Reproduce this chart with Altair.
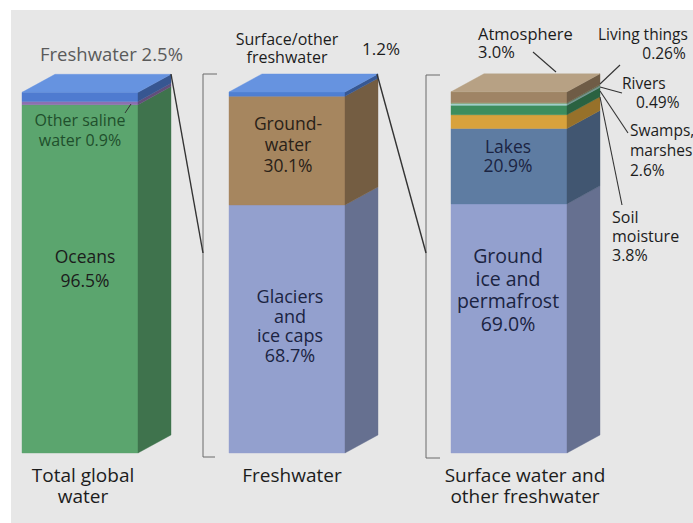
import altair as alt
import pandas as pd

# ---------------------------------------------------------------- data
total_names = ["Oceans", "Other saline water", "Freshwater"]
total_values = [96.5, 0.9, 2.5]

fresh_names = ["Glaciers and ice caps", "Groundwater", "Surface/other freshwater"]
fresh_values = [68.7, 30.1, 1.2]

surface_names = ["Ground ice and permafrost", "Lakes", "Soil moisture",
                 "Swamps, marshes", "Rivers", "Living things", "Atmosphere"]
surface_values = [69.0, 20.9, 3.8, 2.6, 0.49, 0.26, 3.0]

bar_titles = [["Total global", "water"], ["Freshwater"],
              ["Surface water and", "other freshwater"]]

# ---------------------------------------------------------------- style
total_colors = ["#5ba56e", "#8c70b0", "#4f7bd0"]
fresh_colors = ["#93a0ce", "#a6865f", "#4f7fd2"]
surface_colors = ["#93a0ce", "#5e7ca2", "#d8a23c", "#3d8d5d",
                  "#a3d2cf", "#7d9d6a", "#9f8465"]
top_colors = ["#6693e0", "#6693e0", "#b7a184"]
PANEL = "#e7e7e7"
FONT = "Open Sans"

W, H = 693, 523
BAR_LEFT = [22, 229, 451]
BAR_W = 116
DEPTH_X = 33          # depth offset, horizontal (x units)
DEPTH_Y = 5.0         # depth offset, vertical (percent units)
Y0_PX, PX_PER_PCT = 453, 3.61

bars = [
    (total_names, total_values, total_colors),
    (fresh_names, fresh_values, fresh_colors),
    (surface_names, surface_values, surface_colors),
]


def shade(hex_color, f):
    h = hex_color.lstrip("#")
    r, g, b = (int(h[i:i + 2], 16) for i in (0, 2, 4))
    return "#%02x%02x%02x" % (int(r * f), int(g * f), int(b * f))


front_rows, side_rows, top_rows = [], [], []
for b, (names, values, colors) in enumerate(bars):
    xl = BAR_LEFT[b]
    xr = xl + BAR_W
    lo = 0.0
    for name, v, c in zip(names, values, colors):
        hi = lo + v
        key = f"{b}-{name}"
        front_rows.append(dict(key=key, x=xl, x2=xr, lo=lo, hi=hi, color=c))
        side_c = shade(c, 0.70)
        side_rows.append(dict(key=key, x=xr, lo=lo, hi=hi, color=side_c))
        side_rows.append(dict(key=key, x=xr + DEPTH_X, lo=lo + DEPTH_Y,
                              hi=hi + DEPTH_Y, color=side_c))
        lo = hi
    top_rows.append(dict(key=f"top{b}", y=lo, x=xl, x2=xr, color=top_colors[b]))
    top_rows.append(dict(key=f"top{b}", y=lo + DEPTH_Y, x=xl + DEPTH_X,
                         x2=xr + DEPTH_X, color=top_colors[b]))

front = pd.DataFrame(front_rows)
side = pd.DataFrame(side_rows)
top = pd.DataFrame(top_rows)

xs = alt.Scale(domain=[0, W])
ys = alt.Scale(domain=[-(H - Y0_PX) / PX_PER_PCT, Y0_PX / PX_PER_PCT])

panel = alt.Chart(pd.DataFrame({"a": [0]})).mark_rect(color=PANEL).encode(
    x=alt.value(11), x2=alt.value(W), y=alt.value(10), y2=alt.value(H))

front_layer = alt.Chart(front).mark_rect(strokeWidth=0.4).encode(
    x=alt.X("x:Q", scale=xs, axis=None), x2="x2:Q",
    y=alt.Y("lo:Q", scale=ys, axis=None), y2="hi:Q",
    color=alt.Color("color:N", scale=None),
    stroke=alt.Color("color:N", scale=None))

side_layer = alt.Chart(side).mark_area(orient="vertical", strokeWidth=0.4).encode(
    x=alt.X("x:Q", scale=xs, axis=None),
    y=alt.Y("lo:Q", scale=ys, axis=None), y2="hi:Q",
    color=alt.Color("color:N", scale=None),
    stroke=alt.Color("color:N", scale=None),
    detail="key:N")

top_layer = alt.Chart(top).mark_area(orient="horizontal", strokeWidth=0.4).encode(
    y=alt.Y("y:Q", scale=ys, axis=None),
    x=alt.X("x:Q", scale=xs, axis=None), x2="x2:Q",
    color=alt.Color("color:N", scale=None),
    stroke=alt.Color("color:N", scale=None),
    detail="key:N")

# ---------------------------------------------------------------- lines
lines = pd.DataFrame([
    # brackets
    dict(x=203, y=74, x2=203, y2=457, c="#6b6b6b", w=1.0),
    dict(x=203, y=74, x2=217, y2=74, c="#6b6b6b", w=1.0),
    dict(x=203, y=457, x2=215, y2=457, c="#6b6b6b", w=1.0),
    dict(x=426, y=75, x2=426, y2=458, c="#6b6b6b", w=1.0),
    dict(x=426, y=75, x2=440, y2=75, c="#6b6b6b", w=1.0),
    dict(x=426, y=458, x2=440, y2=458, c="#6b6b6b", w=1.0),
    # connectors
    dict(x=171, y=74, x2=203, y2=253, c="#333333", w=1.4),
    dict(x=377, y=74, x2=426, y2=253, c="#333333", w=1.4),
    # leaders
    dict(x=131, y=104, x2=125, y2=113, c="#333333", w=1.0),
    dict(x=533, y=52, x2=556, y2=72, c="#333333", w=1.1),
    dict(x=620, y=65, x2=600, y2=84, c="#333333", w=1.1),
    dict(x=622, y=93, x2=600, y2=87, c="#333333", w=1.1),
    dict(x=600, y=91, x2=628, y2=133, c="#333333", w=1.1),
    dict(x=600, y=97, x2=622, y2=205, c="#333333", w=1.1),
])

line_layer = alt.Chart(lines).mark_rule().encode(
    x=alt.X("x:Q", scale=None), x2="x2:Q",
    y=alt.Y("y:Q", scale=None), y2="y2:Q",
    color=alt.Color("c:N", scale=None),
    strokeWidth=alt.StrokeWidth("w:Q", scale=None))

# ---------------------------------------------------------------- labels
DARK = "#1c1c1c"
NAVY = "#1b2442"
# name -> (line templates, x, first-line y, line gap, align, size, colour)
label_layout = {
    "Freshwater": (["Freshwater {v}"], 40, 55, 0, "left", 18.5, "#5a5a5a"),
    "Other saline water": (["Other saline", "water {v}"], 80, 121, 20, "center", 16, "#1f4f2c"),
    "Oceans": (["Oceans", "{v}"], 85, 258, 24, "center", 17.5, DARK),
    "Surface/other freshwater": (["Surface/other", "freshwater"], 287, 40, 18, "center", 16, DARK),
    "Groundwater": (["Ground-", "water", "{v}"], 288, 125, 21, "center", 17.5, "#2a2118"),
    "Glaciers and ice caps": (["Glaciers", "and", "ice caps", "{v}"], 290, 298, 19.5, "center", 18, NAVY),
    "Atmosphere": (["Atmosphere", "{v}"], 478, 35, 18, "left", 16.5, DARK),
    "Living things": (["Living things"], 598, 35, 0, "left", 15.5, DARK),
    "Rivers": (["Rivers"], 622, 84, 0, "left", 15.5, DARK),
    "Swamps, marshes": (["Swamps,", "marshes", "{v}"], 630, 131, 20, "left", 15.5, DARK),
    "Soil moisture": (["Soil", "moisture", "{v}"], 612, 218, 19, "left", 16, DARK),
    "Lakes": (["Lakes", "{v}"], 508, 148, 19, "center", 17.5, NAVY),
    "Ground ice and permafrost": (["Ground", "ice and", "permafrost", "{v}"], 508, 257, 22.5, "center", 19.5, NAVY),
}
# value lines placed apart from their names
value_layout = {
    "Surface/other freshwater": (362, 50, "left", 17, DARK),
    "Living things": (664, 54, "center", 15.5, DARK),
    "Rivers": (636, 103, "left", 15.5, DARK),
}

blocks = []


def add_block(text_lines, x, y0, gap, align, size, col):
    # y0 is the middle of the first line; further lines follow at `gap`
    blocks.append(dict(text="\n".join(text_lines), x=x, y=y0,
                       gap=gap if gap else size * 1.2, align=align, size=size, c=col))


for names, values, _ in bars:
    for name, v in zip(names, values):
        pct = f"{v}%"
        if name in label_layout:
            tmpl, x, y, gap, align, size, col = label_layout[name]
            add_block([t.replace("{v}", pct) for t in tmpl], x, y, gap, align, size, col)
        if name in value_layout:
            x, y, align, size, col = value_layout[name]
            add_block([pct], x, y, 0, align, size, col)

title_x = [83, 292, 525]
for tx, tl in zip(title_x, bar_titles):
    add_block(tl, tx, 476, 21, "center", 19, DARK)


def text_block(blk):
    return alt.Chart(pd.DataFrame([blk])).mark_text(
        align=blk["align"], baseline="middle", font=FONT, lineBreak="\n",
        lineHeight=blk["gap"], fontSize=blk["size"], color=blk["c"]).encode(
        x=alt.X("x:Q", scale=None), y=alt.Y("y:Q", scale=None), text="text:N")


chart = alt.layer(
    panel, front_layer, side_layer, top_layer, line_layer,
    *[text_block(b) for b in blocks],
).properties(
    width=W, height=H, padding=0, autosize="none", background="white",
).configure_view(stroke=None)

chart.save("out.html", embed_options={"renderer": "svg", "actions": False})
